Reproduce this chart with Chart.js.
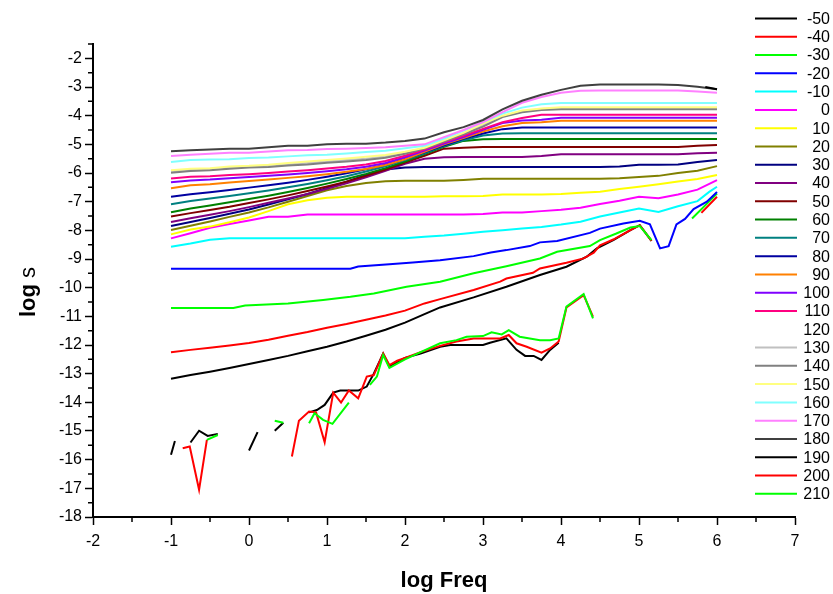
<!DOCTYPE html>
<html>
<head>
<meta charset="utf-8">
<script src="https://cdn.jsdelivr.net/npm/chart.js@4.4.1/dist/chart.umd.min.js"></script>
<style>
  html, body { margin: 0; padding: 0; background: #ffffff; }
  #wrap { width: 833px; height: 594px; }
</style>
</head>
<body>
<div id="wrap"><canvas id="c" width="833" height="594"></canvas></div>
<script>
// Measurement temperatures (legend labels), one curve each
const temps = [-50, -40, -30, -20, -10, 0, 10, 20, 30, 40, 50, 60, 70, 80, 90,
               100, 110, 120, 130, 140, 150, 160, 170, 180, 190, 200, 210];
const lineColors = ['#000000', '#FF0000', '#00FF00', '#0000FF', '#00FFFF', '#FF00FF',
  '#FFFF00', '#808000', '#000080', '#800080', '#800000', '#008000', '#008080',
  '#0000A0', '#FF8000', '#8000FF', '#FF0080', '#FFFFFF', '#C0C0C0', '#808080',
  '#FFFF80', '#80FFFF', '#FF80FF', '#404040', '#000000', '#FF0000', '#00FF00'];

// Common frequency grid (log Freq) for the regularly sampled curves
const logF = [-1, -0.75, -0.5, -0.25, 0, 0.25, 0.5, 0.75, 1, 1.25, 1.5, 1.75, 2, 2.25,
              2.5, 2.75, 3, 3.25, 3.5, 3.75, 4, 4.25, 4.5, 4.75, 5, 5.25, 5.5, 5.75, 6];

// -50 .. -10 : own frequency points (null = missing reading)
const xM50 = [-1, -0.75, -0.5, -0.25, 0, 0.25, 0.5, 0.75, 1, 1.25, 1.5, 1.75, 2, 2.25,
              2.45, 2.88, 3.3, 3.73, 4.07, 4.33, 4.46, 4.67, 4.89, 5.01, 5.16];
const yM50 = [-13.18, -13.05, -12.93, -12.80, -12.66, -12.52, -12.38, -12.22, -12.06, -11.88,
              -11.68, -11.47, -11.22, -10.92, -10.69, -10.34, -9.97, -9.56, -9.27, -8.92,
              -8.63, -8.34, -7.99, -7.82, -8.37];
const xM40 = [-1, -0.75, -0.5, -0.25, 0, 0.25, 0.5, 0.75, 1, 1.25, 1.5, 1.75, 2, 2.25,
              2.45, 2.88, 3.22, 3.3, 3.64, 3.73, 4.07, 4.29, 4.42, 4.5, 4.67, 4.89, 5.01, 5.16,
              5.5, 5.8, 6];
const yM40 = [-12.25, -12.17, -12.10, -12.02, -11.93, -11.82, -11.68, -11.55, -11.40, -11.27,
              -11.12, -10.97, -10.80, -10.55, -10.40, -10.08, -9.79, -9.68, -9.48, -9.33,
              -9.13, -8.98, -8.78, -8.52, -8.32, -7.99, -7.82, -8.37, null, -7.39, -6.83];
const xM30 = [-1, -0.2, -0.05, 0.5, 0.95, 1.3, 1.6, 2.02, 2.45, 2.88, 3.3, 3.73, 3.95, 4.37,
              4.5, 4.71, 4.89, 5.01, 5.16, 5.4, 5.68, 6];
const yM30 = [-10.71, -10.71, -10.62, -10.55, -10.43, -10.32, -10.20, -9.97, -9.79, -9.50,
              -9.25, -8.98, -8.75, -8.55, -8.34, -8.11, -7.90, -7.85, -8.34, null, -7.59, -6.72];
const xM20 = [-1, 1.3, 1.4, 1.8, 2.1, 2.45, 2.88, 3.1, 3.3, 3.6, 3.73, 3.95, 4.37, 4.5, 4.8,
              5.01, 5.14, 5.27, 5.38, 5.48, 5.59, 5.7, 5.87, 6];
const yM20 = [-9.34, -9.34, -9.26, -9.18, -9.12, -9.04, -8.90, -8.77, -8.69, -8.55, -8.42,
              -8.37, -8.09, -7.94, -7.76, -7.67, -7.79, -8.63, -8.55, -7.79, -7.60, -7.26,
              -7.00, -6.66];
const xM10 = [-1, -0.75, -0.5, -0.25, 0, 0.5, 1, 1.5, 2, 2.25, 2.5, 2.75, 3, 3.25, 3.5,
              3.75, 4, 4.25, 4.5, 4.75, 5, 5.25, 5.5, 5.75, 5.9, 6];
const yM10 = [-8.57, -8.46, -8.33, -8.28, -8.28, -8.28, -8.28, -8.28, -8.28, -8.22, -8.18,
              -8.12, -8.05, -8.00, -7.94, -7.88, -7.80, -7.70, -7.52, -7.38, -7.24, -7.36,
              -7.16, -6.98, -6.66, -6.48];

// 0 .. 180 : values on the common grid
const y0   = [-8.28, -8.10, -7.91, -7.78, -7.66, -7.53, -7.53, -7.45, -7.45, -7.45, -7.45, -7.45,
              -7.45, -7.45, -7.45, -7.45, -7.43, -7.38, -7.38, -7.33, -7.28, -7.21, -7.08, -6.97,
              -6.83, -6.88, -6.75, -6.58, -6.25];
const y10  = [-8.14, -7.97, -7.87, -7.72, -7.55, -7.33, -7.09, -6.95, -6.86, -6.83, -6.83, -6.83,
              -6.83, -6.83, -6.81, -6.81, -6.80, -6.75, -6.75, -6.75, -6.73, -6.69, -6.65, -6.56,
              -6.48, -6.39, -6.30, -6.21, -6.07];
const y20  = [-7.99, -7.84, -7.69, -7.53, -7.38, -7.20, -7.00, -6.80, -6.60, -6.45, -6.35, -6.29,
              -6.27, -6.27, -6.27, -6.24, -6.20, -6.20, -6.20, -6.20, -6.20, -6.20, -6.20, -6.18,
              -6.14, -6.10, -6.00, -5.92, -5.76];
const y30  = [-7.85, -7.71, -7.57, -7.42, -7.27, -7.10, -6.92, -6.73, -6.52, -6.30, -6.07, -5.88,
              -5.81, -5.79, -5.79, -5.79, -5.79, -5.79, -5.79, -5.79, -5.79, -5.79, -5.79, -5.77,
              -5.71, -5.71, -5.70, -5.62, -5.55];
const y40  = [-7.71, -7.58, -7.46, -7.33, -7.19, -7.04, -6.89, -6.73, -6.55, -6.36, -6.15, -5.92,
              -5.68, -5.50, -5.45, -5.44, -5.44, -5.44, -5.44, -5.41, -5.35, -5.35, -5.35, -5.35,
              -5.35, -5.35, -5.35, -5.31, -5.29];
const y50  = [-7.52, -7.40, -7.29, -7.18, -7.05, -6.92, -6.78, -6.63, -6.47, -6.30, -6.10, -5.88,
              -5.64, -5.40, -5.15, -5.12, -5.09, -5.09, -5.09, -5.09, -5.09, -5.09, -5.09, -5.09,
              -5.09, -5.09, -5.09, -5.05, -5.02];
const y60  = [-7.37, -7.24, -7.13, -7.02, -6.91, -6.79, -6.66, -6.52, -6.37, -6.21, -6.03, -5.83,
              -5.60, -5.34, -5.09, -4.88, -4.82, -4.81, -4.81, -4.81, -4.81, -4.81, -4.81, -4.81,
              -4.81, -4.81, -4.81, -4.81, -4.81];
const y70  = [-7.09, -6.98, -6.89, -6.80, -6.71, -6.61, -6.50, -6.38, -6.25, -6.11, -5.95, -5.77,
              -5.55, -5.31, -5.06, -4.86, -4.69, -4.62, -4.61, -4.61, -4.61, -4.61, -4.61, -4.61,
              -4.61, -4.61, -4.61, -4.61, -4.61];
const y80  = [-6.83, -6.74, -6.67, -6.59, -6.51, -6.43, -6.34, -6.24, -6.13, -6.01, -5.87, -5.71,
              -5.51, -5.28, -5.03, -4.81, -4.62, -4.47, -4.41, -4.41, -4.41, -4.41, -4.41, -4.41,
              -4.41, -4.41, -4.41, -4.41, -4.41];
const y90  = [-6.53, -6.43, -6.39, -6.33, -6.28, -6.23, -6.17, -6.11, -6.04, -5.96, -5.86, -5.72,
              -5.52, -5.26, -5.00, -4.78, -4.55, -4.37, -4.26, -4.23, -4.18, -4.18, -4.18, -4.18,
              -4.18, -4.18, -4.18, -4.18, -4.18];
const y100 = [-6.32, -6.26, -6.23, -6.18, -6.14, -6.10, -6.05, -6.00, -5.94, -5.87, -5.78, -5.65,
              -5.45, -5.22, -4.97, -4.75, -4.49, -4.26, -4.17, -4.14, -4.07, -4.07, -4.07, -4.07,
              -4.07, -4.07, -4.07, -4.07, -4.07];
const y110 = [-6.19, -6.13, -6.11, -6.07, -6.04, -6.00, -5.95, -5.90, -5.84, -5.78, -5.70, -5.58,
              -5.40, -5.18, -4.93, -4.70, -4.46, -4.23, -4.08, -3.97, -3.97, -3.97, -3.97, -3.97,
              -3.97, -3.97, -3.97, -3.97, -3.97];
const y120 = [];
const y130 = [-5.95, -5.89, -5.86, -5.81, -5.78, -5.75, -5.70, -5.65, -5.60, -5.55, -5.50, -5.42,
              -5.30, -5.13, -4.88, -4.62, -4.33, -4.02, -3.85, -3.77, -3.75, -3.75, -3.75, -3.75,
              -3.75, -3.75, -3.75, -3.75, -3.75];
const y140 = [-5.99, -5.93, -5.90, -5.85, -5.81, -5.79, -5.74, -5.70, -5.64, -5.60, -5.55, -5.47,
              -5.33, -5.15, -4.90, -4.65, -4.38, -4.05, -3.88, -3.80, -3.78, -3.78, -3.78, -3.78,
              -3.78, -3.78, -3.78, -3.78, -3.78];
const y150 = [-5.90, -5.85, -5.83, -5.77, -5.75, -5.71, -5.65, -5.60, -5.55, -5.49, -5.43, -5.37,
              -5.26, -5.12, -4.86, -4.60, -4.28, -4.00, -3.82, -3.75, -3.71, -3.71, -3.71, -3.71,
              -3.71, -3.71, -3.71, -3.71, -3.71];
const y160 = [-5.62, -5.55, -5.53, -5.52, -5.48, -5.46, -5.42, -5.38, -5.36, -5.32, -5.27, -5.22,
              -5.14, -5.05, -4.80, -4.52, -4.22, -3.93, -3.72, -3.60, -3.56, -3.56, -3.56, -3.56,
              -3.56, -3.56, -3.56, -3.56, -3.56];
const y170 = [-5.41, -5.36, -5.33, -5.29, -5.29, -5.25, -5.21, -5.20, -5.16, -5.15, -5.13, -5.10,
              -5.05, -5.00, -4.75, -4.50, -4.22, -3.88, -3.55, -3.35, -3.20, -3.13, -3.12, -3.12,
              -3.12, -3.12, -3.12, -3.16, -3.20];
const y180 = [-5.24, -5.21, -5.18, -5.15, -5.15, -5.10, -5.05, -5.05, -5.00, -4.98, -4.98, -4.94,
              -4.88, -4.80, -4.58, -4.40, -4.15, -3.78, -3.48, -3.27, -3.10, -2.96, -2.91, -2.91,
              -2.91, -2.91, -2.93, -2.99, -3.08];

// 190 .. 210 : scattered readings with gaps
const x190 = [-1.0, -0.95, -0.85, -0.75, -0.64, -0.53, -0.40, -0.2, 0.0, 0.11, 0.22, 0.33, 0.44,
              0.6, 0.77, 0.87, 0.97, 1.08, 1.17, 1.40, 1.51, 1.6, 1.72, 1.8, 1.9, 2.0, 2.2, 2.45,
              2.58, 3.0, 3.09, 3.30, 3.43, 3.54, 3.65, 3.75, 3.86, 3.97, 5.0, 5.85, 6.0];
const y190 = [-15.83, -15.35, null, -15.40, -14.99, -15.17, -15.10, null, -15.68, -15.04, null,
              -14.99, -14.71, null, -14.35, -14.27, -14.09, -13.66, -13.59, -13.59, -13.45, -13.0,
              -12.3, -12.75, -12.6, -12.45, -12.3, -12.06, -12.0, -12.0, -11.92, -11.77, -12.17,
              -12.38, -12.38, -12.52, -12.17, -11.92, null, -3.0, -3.08];
const x200 = [-0.85, -0.76, -0.64, -0.54, 0.0, 0.55, 0.64, 0.77, 0.86, 0.97, 1.08, 1.18, 1.28,
              1.40, 1.51, 1.6, 1.72, 1.8, 1.9, 2.0, 2.2, 2.45, 2.66, 2.88, 3.1, 3.22, 3.33, 3.43,
              3.56, 3.75, 3.86, 3.97, 4.07, 4.29, 4.41];
const y200 = [-15.60, -15.54, -17.05, -15.31, null, -15.89, -14.64, -14.32, -14.35, -15.39,
              -13.66, -14.01, -13.59, -13.86, -13.10, -13.05, -12.3, -12.7, -12.55, -12.45,
              -12.25, -12.03, -11.88, -11.77, -11.77, -11.77, -11.65, -11.94, -12.06, -12.27,
              -12.12, -11.88, -10.69, -10.26, -11.01];
const x210 = [-0.54, -0.40, 0.0, 0.33, 0.44, 0.6, 0.77, 0.84, 0.95, 1.07, 1.28, 1.42, 1.55,
              1.64, 1.72, 1.8, 2.0, 2.2, 2.45, 2.66, 2.79, 3.0, 3.11, 3.24, 3.33, 3.47, 3.60,
              3.73, 3.86, 3.97, 4.07, 4.29, 4.41];
const y210 = [-15.31, -15.14, null, -14.64, -14.71, null, -14.73, -14.38, -14.61, -14.75,
              -14.01, null, -13.39, -13.10, -12.35, -12.8, -12.5, -12.25, -11.94, -11.83, -11.71,
              -11.69, -11.56, -11.63, -11.48, -11.71, -11.77, -11.83, -11.83, -11.77, -10.66,
              -10.22, -11.07];

// Axis tick values
const xTicks = [-2, -1, 0, 1, 2, 3, 4, 5, 6, 7];
const yTicks = [-18, -17, -16, -15, -14, -13, -12, -11, -10, -9, -8, -7, -6, -5, -4, -3, -2];

const xSets = [xM50, xM40, xM30, xM20, xM10, logF, logF, logF, logF, logF, logF, logF, logF,
               logF, logF, logF, logF, logF, logF, logF, logF, logF, logF, logF, x190, x200, x210];
const ySets = [yM50, yM40, yM30, yM20, yM10, y0, y10, y20, y30, y40, y50, y60, y70, y80, y90,
               y100, y110, y120, y130, y140, y150, y160, y170, y180, y190, y200, y210];

const datasets = temps.map((t, i) => ({
  label: String(t),
  data: ySets[i].map((v, k) => ({ x: xSets[i][k], y: v })),
  borderColor: lineColors[i],
  backgroundColor: lineColors[i],
  borderWidth: 2,
  pointRadius: 0,
  tension: 0,
  spanGaps: false,
  fill: false,
  order: -i
}));

const FONT = '"Liberation Sans", Arial, Helvetica, sans-serif';
Chart.defaults.font.family = FONT;
Chart.defaults.color = '#000';

// Half-unit minor ticks on both axes, pointing outward
const minorTicks = {
  id: 'minorTicks',
  afterDraw(chart) {
    const { ctx, scales: { x, y } } = chart;
    ctx.save();
    ctx.strokeStyle = '#000';
    ctx.lineWidth = 1.5;
    ctx.beginPath();
    for (let v = x.min + 0.5; v < x.max; v += 1) {
      const px = x.getPixelForValue(v);
      ctx.moveTo(px, y.bottom); ctx.lineTo(px, y.bottom + 5);
    }
    for (let v = y.min + 0.5; v <= y.max + 1e-9; v += 1) {
      const py = y.getPixelForValue(v);
      ctx.moveTo(x.left, py); ctx.lineTo(x.left - 5, py);
    }
    ctx.stroke();
    ctx.restore();
  }
};

// Temperature key at the right-hand side
const sideLegend = {
  id: 'sideLegend',
  afterDraw(chart) {
    const ctx = chart.ctx;
    ctx.save();
    ctx.font = '16px ' + FONT;
    ctx.textAlign = 'right';
    ctx.textBaseline = 'middle';
    chart.data.datasets.forEach((ds, i) => {
      const yy = 18.5 + i * 18.28;
      ctx.strokeStyle = ds.borderColor;
      ctx.lineWidth = 2;
      ctx.beginPath();
      ctx.moveTo(755, yy); ctx.lineTo(797, yy);
      ctx.stroke();
      ctx.fillStyle = '#000';
      ctx.fillText(ds.label, 830, yy + 1);
    });
    ctx.restore();
  }
};

// Rotated y-axis title: bold "log" followed by a plain "s"
const yTitle = {
  id: 'yTitle',
  afterDraw(chart) {
    const ctx = chart.ctx;
    const a = 'log ', b = 's';
    ctx.save();
    ctx.translate(29, 292);
    ctx.rotate(-Math.PI / 2);
    ctx.textBaseline = 'middle';
    ctx.textAlign = 'left';
    ctx.font = 'bold 22px ' + FONT;
    const wa = ctx.measureText(a).width;
    ctx.font = '22px ' + FONT;
    const wb = ctx.measureText(b).width;
    const x0 = -(wa + wb) / 2;
    ctx.fillStyle = '#000';
    ctx.font = 'bold 22px ' + FONT;
    ctx.fillText(a, x0, 0);
    ctx.font = '22px ' + FONT;
    ctx.fillText(b, x0 + wa, 0);
    ctx.restore();
  }
};

new Chart(document.getElementById('c'), {
  type: 'line',
  data: { datasets },
  options: {
    responsive: false,
    animation: false,
    devicePixelRatio: 1,
    layout: { padding: { left: 0, right: 38, top: 44, bottom: 0 } },
    plugins: { legend: { display: false }, tooltip: { enabled: false } },
    scales: {
      x: {
        type: 'linear',
        min: -2, max: 7,
        afterBuildTicks: s => { s.ticks = xTicks.map(v => ({ value: v })); },
        afterFit: s => { s.height = 77; },
        border: { display: true, color: '#000', width: 2 },
        grid: { drawOnChartArea: false, drawTicks: true, tickLength: 8, tickColor: '#000', tickWidth: 1.5 },
        ticks: { font: { size: 16 }, color: '#000', padding: 7, maxRotation: 0 },
        title: { display: true, text: 'log Freq', font: { size: 22, weight: 'bold' }, color: '#000',
                 padding: { top: 0, bottom: 0 } }
      },
      y: {
        type: 'linear',
        min: -18, max: -1.5,
        afterBuildTicks: s => { s.ticks = yTicks.map(v => ({ value: v })); },
        afterFit: s => { s.width = 93; },
        border: { display: true, color: '#000', width: 2 },
        grid: { drawOnChartArea: false, drawTicks: true, tickLength: 8, tickColor: '#000', tickWidth: 1.5 },
        ticks: { font: { size: 16 }, color: '#000', padding: 3 }
      }
    }
  },
  plugins: [minorTicks, sideLegend, yTitle]
});
</script>
</body>
</html>
